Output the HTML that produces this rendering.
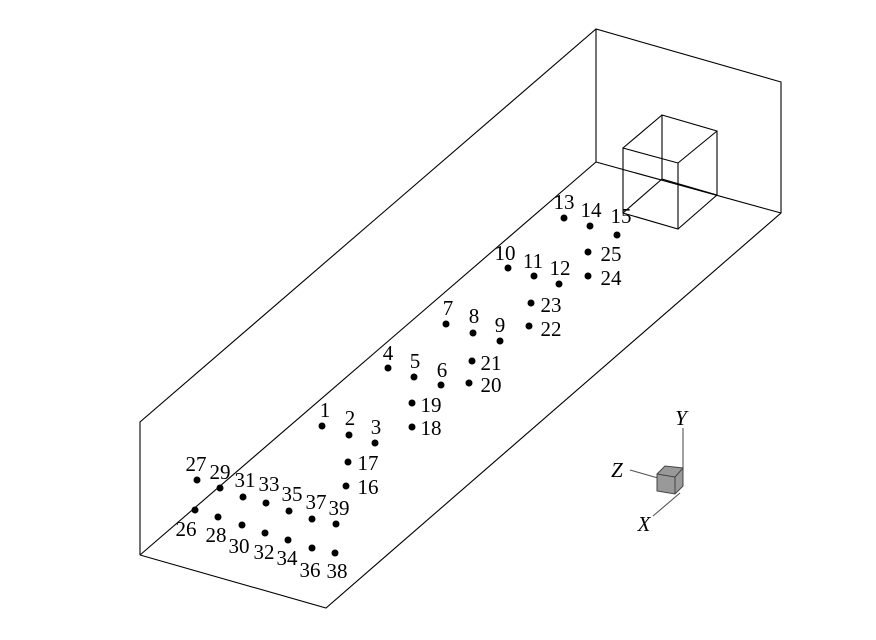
<!DOCTYPE html>
<html><head><meta charset="utf-8"><style>html,body{margin:0;padding:0;background:#fff}svg{display:block}</style></head>
<body>
<svg width="876" height="640" viewBox="0 0 876 640" xmlns="http://www.w3.org/2000/svg">
<g stroke="#000" stroke-width="1.1" fill="none">
<polyline points="140,555 140,422 596,29 781,82 781,213 326,608 140,555"/>
<line x1="140" y1="555" x2="596" y2="162"/>
<line x1="596" y1="162" x2="781" y2="213"/>
<line x1="596" y1="29" x2="596" y2="162"/>
<polygon points="623,148 678,163 678,229 623,213"/>
<polygon points="662,115 717,131 717,195 662,179"/>
<line x1="623" y1="148" x2="662" y2="115"/>
<line x1="678" y1="163" x2="717" y2="131"/>
<line x1="678" y1="229" x2="717" y2="195"/>
<line x1="623" y1="213" x2="662" y2="179"/>
<line x1="683" y1="428" x2="683" y2="468" stroke="#555"/>
<line x1="630" y1="470" x2="658" y2="478" stroke="#555"/>
<line x1="680" y1="493" x2="653" y2="516" stroke="#555"/>
</g>
<polygon points="657,474 665,466 683,468 683,486 675,494 657,491" fill="#999" stroke="#444" stroke-width="1"/>
<line x1="657" y1="474" x2="675" y2="477" stroke="#444"/><line x1="675" y1="477" x2="683" y2="468" stroke="#444"/><line x1="675" y1="477" x2="675" y2="494" stroke="#444"/>
<g font-family="Liberation Serif, serif" font-style="italic" font-size="21" text-anchor="middle">
<text x="681" y="425">Y</text><text x="617" y="477">Z</text><text x="644" y="531">X</text>
</g>
<g fill="#000">
<circle cx="322" cy="426" r="3.5"/><circle cx="349" cy="435" r="3.5"/><circle cx="375" cy="443" r="3.5"/>
<circle cx="388" cy="368" r="3.5"/><circle cx="414" cy="377" r="3.5"/><circle cx="441" cy="385" r="3.5"/>
<circle cx="446" cy="324" r="3.5"/><circle cx="473" cy="333" r="3.5"/><circle cx="500" cy="341" r="3.5"/>
<circle cx="508" cy="268" r="3.5"/><circle cx="534" cy="276" r="3.5"/><circle cx="559" cy="284" r="3.5"/>
<circle cx="564" cy="218" r="3.5"/><circle cx="590" cy="226" r="3.5"/><circle cx="617" cy="235" r="3.5"/>
<circle cx="346" cy="486" r="3.5"/><circle cx="348" cy="462" r="3.5"/><circle cx="412" cy="427" r="3.5"/><circle cx="412" cy="403" r="3.5"/>
<circle cx="469" cy="383" r="3.5"/><circle cx="472" cy="361" r="3.5"/><circle cx="529" cy="326" r="3.5"/><circle cx="531" cy="303" r="3.5"/>
<circle cx="588" cy="276" r="3.5"/><circle cx="588" cy="252" r="3.5"/>
<circle cx="195" cy="510" r="3.5"/><circle cx="197" cy="480" r="3.5"/><circle cx="218" cy="517" r="3.5"/><circle cx="220" cy="488" r="3.5"/>
<circle cx="242" cy="525" r="3.5"/><circle cx="243" cy="497" r="3.5"/><circle cx="265" cy="533" r="3.5"/><circle cx="266" cy="503" r="3.5"/>
<circle cx="288" cy="540" r="3.5"/><circle cx="289" cy="511" r="3.5"/><circle cx="312" cy="548" r="3.5"/><circle cx="312" cy="519" r="3.5"/>
<circle cx="335" cy="553" r="3.5"/><circle cx="336" cy="524" r="3.5"/>
</g>
<g font-family="Liberation Serif, serif" font-size="21" text-anchor="middle">
<text x="325" y="417">1</text><text x="350" y="425">2</text><text x="376" y="434">3</text>
<text x="388" y="360">4</text><text x="415" y="368">5</text><text x="442" y="377">6</text>
<text x="448" y="315">7</text><text x="474" y="323">8</text><text x="500" y="332">9</text>
<text x="505" y="260">10</text><text x="533" y="268">11</text><text x="560" y="275">12</text>
<text x="564" y="209">13</text><text x="591" y="217">14</text><text x="621" y="223">15</text>
<text x="368" y="494">16</text><text x="368" y="470">17</text><text x="431" y="435">18</text><text x="431" y="412">19</text>
<text x="491" y="392">20</text><text x="491" y="370">21</text><text x="551" y="336">22</text><text x="551" y="312">23</text>
<text x="611" y="285">24</text><text x="611" y="261">25</text>
<text x="186" y="536">26</text><text x="196" y="471">27</text><text x="216" y="542">28</text><text x="220" y="479">29</text>
<text x="239" y="553">30</text><text x="245" y="487">31</text><text x="264" y="559">32</text><text x="269" y="491">33</text>
<text x="287" y="565">34</text><text x="292" y="501">35</text><text x="310" y="577">36</text><text x="316" y="509">37</text>
<text x="337" y="578">38</text><text x="339" y="515">39</text>
</g>
</svg>
</body></html>
